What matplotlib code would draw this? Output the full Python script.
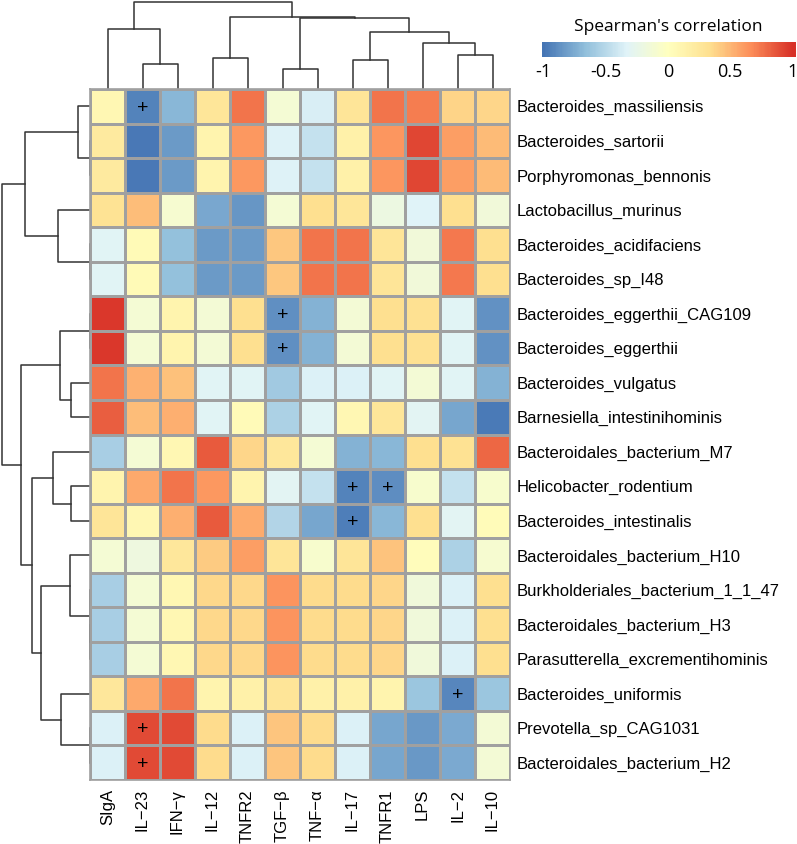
import numpy as np
import matplotlib
matplotlib.use("Agg")
import matplotlib.pyplot as plt
from matplotlib.colors import LinearSegmentedColormap, Normalize

W, H, DPI = 797, 844, 100
plt.rcParams["font.family"] = ["Liberation Sans", "DejaVu Sans"]

# heatmap columns / rows, in the clustered display order
columns = ["SIgA", "IL\u221223", "IFN\u2212\u03b3", "IL\u221212", "TNFR2", "TGF\u2212\u03b2",
           "TNF\u2212\u03b1", "IL\u221217", "TNFR1", "LPS", "IL\u22122", "IL\u221210"]
rows = ["Bacteroides_massiliensis", "Bacteroides_sartorii", "Porphyromonas_bennonis",
        "Lactobacillus_murinus", "Bacteroides_acidifaciens", "Bacteroides_sp_I48",
        "Bacteroides_eggerthii_CAG109", "Bacteroides_eggerthii", "Bacteroides_vulgatus",
        "Barnesiella_intestinihominis", "Bacteroidales_bacterium_M7", "Helicobacter_rodentium",
        "Bacteroides_intestinalis", "Bacteroidales_bacterium_H10",
        "Burkholderiales_bacterium_1_1_47", "Bacteroidales_bacterium_H3",
        "Parasutterella_excrementihominis", "Bacteroides_uniformis", "Prevotella_sp_CAG1031",
        "Bacteroidales_bacterium_H2"]

# Spearman's rho, estimated from the colours
rho = np.array([
    [0.08, -0.93, -0.70, 0.27, 0.75, -0.12, -0.36, 0.28, 0.75, 0.72, 0.38, 0.37],
    [0.22, -0.98, -0.83, 0.12, 0.62, -0.34, -0.45, 0.15, 0.63, 0.92, 0.60, 0.48],
    [0.22, -0.98, -0.83, 0.12, 0.62, -0.34, -0.45, 0.15, 0.63, 0.92, 0.60, 0.48],
    [0.30, 0.47, -0.10, -0.77, -0.85, -0.12, 0.33, 0.27, -0.20, -0.33, 0.33, -0.15],
    [-0.32, 0.06, -0.65, -0.83, -0.83, 0.43, 0.75, 0.75, 0.28, -0.15, 0.74, 0.33],
    [-0.32, 0.06, -0.65, -0.83, -0.83, 0.43, 0.75, 0.75, 0.28, -0.15, 0.74, 0.33],
    [0.97, -0.12, 0.12, -0.13, 0.33, -0.88, -0.72, -0.13, 0.33, 0.32, -0.32, -0.87],
    [0.97, -0.12, 0.12, -0.13, 0.33, -0.88, -0.72, -0.13, 0.33, 0.32, -0.32, -0.87],
    [0.75, 0.52, 0.46, -0.32, -0.32, -0.60, -0.35, -0.35, -0.32, -0.13, -0.32, -0.72],
    [0.83, 0.47, 0.53, -0.32, 0.05, -0.55, -0.32, 0.08, 0.27, -0.30, -0.78, -0.97],
    [-0.57, -0.12, 0.08, 0.85, 0.37, 0.25, -0.12, -0.72, -0.70, 0.33, 0.31, 0.80],
    [0.12, 0.55, 0.75, 0.62, 0.12, -0.30, -0.45, -0.93, -0.89, -0.08, -0.45, -0.08],
    [0.28, 0.08, 0.53, 0.85, 0.54, -0.53, -0.78, -0.96, -0.70, 0.33, -0.30, 0.04],
    [-0.12, -0.18, 0.25, 0.42, 0.60, 0.28, -0.08, 0.28, 0.45, 0.03, -0.55, -0.10],
    [-0.57, -0.12, 0.08, 0.36, 0.36, 0.64, 0.35, 0.35, 0.37, -0.16, -0.35, 0.33],
    [-0.57, -0.12, 0.08, 0.36, 0.36, 0.64, 0.35, 0.35, 0.37, -0.16, -0.35, 0.33],
    [-0.57, -0.12, 0.08, 0.36, 0.36, 0.64, 0.35, 0.35, 0.37, -0.16, -0.35, 0.33],
    [0.25, 0.55, 0.75, 0.12, 0.15, 0.28, 0.15, 0.15, 0.12, -0.62, -0.92, -0.62],
    [-0.35, 0.90, 0.90, 0.35, -0.35, 0.44, 0.35, -0.35, -0.78, -0.84, -0.76, -0.13],
    [-0.35, 0.90, 0.90, 0.35, -0.35, 0.44, 0.35, -0.35, -0.78, -0.84, -0.76, -0.13],
])

# significant cells (row, column)
signif = [(0, 1), (6, 5), (7, 5), (11, 7), (11, 8), (12, 7), (17, 10), (18, 1), (19, 1)]

# dendrogram merges: (child a, child b, height); node ids continue after the leaves
col_merges = [(1, 2, 25.5), (0, 12, 60), (3, 4, 31.3), (5, 6, 20), (7, 8, 29.5),
              (10, 11, 34), (9, 17, 45.7), (16, 18, 57.3), (15, 19, 70.7),
              (14, 20, 71.7), (13, 21, 87.5)]
row_merges = [(1, 2, 0), (0, 20, 12), (4, 5, 0), (3, 22, 32), (21, 23, 65),
              (6, 7, 0), (8, 9, 19), (25, 26, 30), (11, 12, 19), (10, 28, 37),
              (15, 16, 0), (14, 30, 0), (13, 31, 20), (18, 19, 0), (17, 33, 29),
              (32, 34, 49), (29, 35, 58), (27, 36, 69), (24, 37, 88.3)]

cbar_ticks = [-1, -0.5, 0, 0.5, 1]
cbar_labels = ["-1", "-0.5", "0", "0.5", "1"]

pal = ["#4575B4", "#91BFDB", "#E0F3F8", "#FFFFBF", "#FEE090", "#FC8D59", "#D73027"]
cmap = LinearSegmentedColormap.from_list("rdylbu", pal)
norm = Normalize(-1, 1)


def box(x0, y0, x1, y1):
    # pixel box (top-left origin) -> figure fraction
    return [x0 / W, 1 - y1 / H, (x1 - x0) / W, (y1 - y0) / H]


def draw_tree(ax, merges, n, flip):
    pos = {i: i + 0.5 for i in range(n)}
    hgt = {i: 0.0 for i in range(n)}
    for k, (a, b, h) in enumerate(merges):
        hs = [hgt[a], h, h, hgt[b]]
        ps = [pos[a], pos[a], pos[b], pos[b]]
        if flip:
            ax.plot(hs, ps, color="#333333", lw=1.1, clip_on=False)
        else:
            ax.plot(ps, hs, color="#333333", lw=1.1, clip_on=False)
        pos[n + k] = (pos[a] + pos[b]) / 2
        hgt[n + k] = h


fig = plt.figure(figsize=(W / DPI, H / DPI), dpi=DPI)

HX0, HY0, HX1, HY1 = 90, 89, 510, 780

# dendrograms first, so the heatmap sits on top of the zero-height joins
axc = fig.add_axes(box(HX0, 0, HX1, HY0))
draw_tree(axc, col_merges, len(columns), flip=False)
axc.set_xlim(0, len(columns))
axc.set_ylim(0, HY0)
axc.axis("off")

axr = fig.add_axes(box(0, HY0, HX0, HY1))
draw_tree(axr, row_merges, len(rows), flip=True)
axr.set_xlim(HX0, 0)
axr.set_ylim(len(rows), 0)
axr.axis("off")

ax = fig.add_axes(box(HX0, HY0, HX1, HY1))
ax.pcolormesh(rho, cmap=cmap, norm=norm, edgecolors="#a0a0a0", linewidth=0.9)
ax.set_xlim(0, len(columns))
ax.set_ylim(len(rows), 0)
for r, c in signif:
    ax.text(c + 0.5, r + 0.55, "+", ha="center", va="center", fontsize=14, color="black")
ax.set_xticks(np.arange(len(columns)) + 0.5)
ax.set_xticklabels(columns, rotation=90, fontsize=12)
ax.set_yticks(np.arange(len(rows)) + 0.5)
ax.set_yticklabels(rows, fontsize=12)
ax.yaxis.tick_right()
ax.tick_params(axis="x", length=0, pad=6.5)
ax.tick_params(axis="y", length=0, pad=5)
for s in ax.spines.values():
    s.set_color("#a0a0a0")
    s.set_linewidth(1.2)

# colour key: the bar runs slightly past +1 as in the reference
axb = fig.add_axes(box(542, 42, 796, 57))
grad = np.linspace(-1.01, 1.03, 300)
axb.pcolormesh(grad, [0, 1], np.clip(grad, -1, 1)[None, :-1], cmap=cmap, norm=norm,
               shading="flat")
axb.set_xlim(-1.01, 1.03)
axb.set_ylim(0, 1)
axb.set_yticks([])
axb.set_xticks(cbar_ticks)
axb.set_xticklabels(cbar_labels, fontsize=13, family="Open Sans")
axb.tick_params(axis="x", length=0, pad=4)
for s in axb.spines.values():
    s.set_visible(False)
fig.text(668 / W, 1 - 27 / H, "Spearman's correlation", ha="center", va="center",
         fontsize=12.5, family="Open Sans")

fig.savefig("out.png", dpi=DPI)
